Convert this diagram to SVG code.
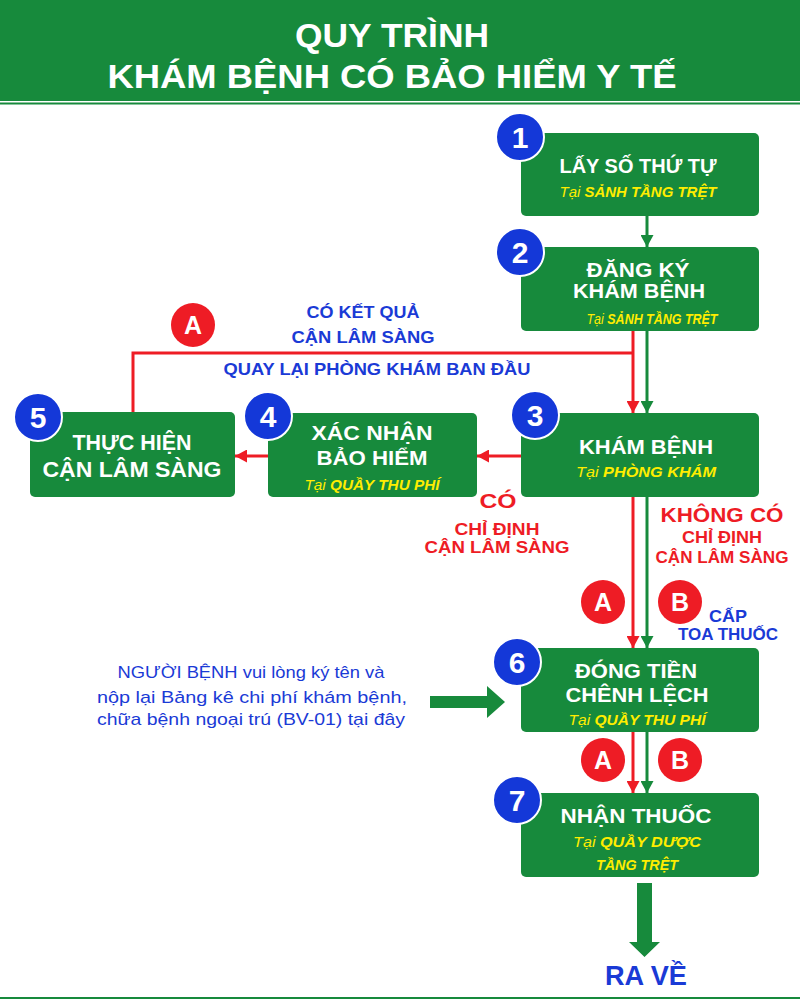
<svg xmlns="http://www.w3.org/2000/svg" width="800" height="1000" viewBox="0 0 800 1000">
<defs>
<style>
text{font-family:"Liberation Sans",Arial,sans-serif;font-weight:bold}
.title{fill:#fff;font-size:33px;text-anchor:middle}
.h{fill:#fff;font-size:20px;text-anchor:middle}
.h5{fill:#fff;font-size:22px;text-anchor:middle}
.y{fill:#ffed00;font-size:15px;font-style:italic;text-anchor:middle}
.yn{font-weight:normal}
.bl{fill:#1a3ad6;font-size:17px;text-anchor:middle}
.para{fill:#1a3ad6;font-size:17px;text-anchor:middle;font-weight:normal}
.rd{fill:#ee1c25;font-size:17px;text-anchor:middle}
.rdb{fill:#ee1c25;font-size:20px;text-anchor:middle}
.box{fill:#178a3c}
.num{fill:#1438d8;stroke:#fff;stroke-width:2}
.nt{fill:#fff;font-size:30px;text-anchor:middle}
.ab{fill:#ee1c25}
.abt{fill:#fff;font-size:25px;text-anchor:middle}
.lr{stroke:#ee1c25;stroke-width:3;fill:none}
.lg{stroke:#178a3c;stroke-width:3;fill:none}
</style>
<marker id="ar" markerUnits="userSpaceOnUse" markerWidth="13" markerHeight="13" refX="12" refY="6.5" orient="auto"><path d="M0,0 L12,6.5 L0,13 z" fill="#ee1c25"/></marker>
<marker id="ag" markerUnits="userSpaceOnUse" markerWidth="13" markerHeight="13" refX="12" refY="6.5" orient="auto"><path d="M0,0 L12,6.5 L0,13 z" fill="#178a3c"/></marker>
</defs>
<rect width="800" height="1000" fill="#fff"/>
<g id="header">
<rect x="0" y="0" width="800" height="101" fill="#178a3c"/>
<rect x="0" y="102.5" width="800" height="2" fill="#178a3c"/>
<text class="title" x="392" y="47" textLength="194" lengthAdjust="spacingAndGlyphs">QUY TRÌNH</text>
<text class="title" x="392" y="88" textLength="569" lengthAdjust="spacingAndGlyphs">KHÁM BỆNH CÓ BẢO HIỂM Y TẾ</text>
</g>
<rect x="0" y="997" width="800" height="2" fill="#178a3c"/>
<g id="connectors">
<line class="lg" x1="647" y1="216" x2="647" y2="247" marker-end="url(#ag)"/>
<polyline class="lr" points="133,412 133,353 633,353"/>
<line class="lr" x1="633" y1="331" x2="633" y2="413" marker-end="url(#ar)"/>
<line class="lg" x1="647" y1="331" x2="647" y2="413" marker-end="url(#ag)"/>
<line class="lr" x1="521" y1="456" x2="477" y2="456" marker-end="url(#ar)"/>
<line class="lr" x1="268" y1="456" x2="235" y2="456" marker-end="url(#ar)"/>
<line class="lr" x1="633" y1="497" x2="633" y2="648" marker-end="url(#ar)"/>
<line class="lg" x1="647" y1="497" x2="647" y2="648" marker-end="url(#ag)"/>
<line class="lr" x1="633" y1="732" x2="633" y2="793" marker-end="url(#ar)"/>
<line class="lg" x1="647" y1="732" x2="647" y2="793" marker-end="url(#ag)"/>
<polygon points="637,883 652,883 652,942 660,942 644.5,957 629,942 637,942" fill="#178a3c"/>
<polygon points="430,696 487,696 487,686 505,702 487,718 487,708 430,708" fill="#178a3c"/>
</g>
<g id="labels">
<circle class="ab" cx="193" cy="325" r="22"/><text class="abt" x="193" y="334">A</text>
<text class="bl" x="363" y="318" textLength="113" lengthAdjust="spacingAndGlyphs">CÓ KẾT QUẢ</text>
<text class="bl" x="363" y="343" textLength="143" lengthAdjust="spacingAndGlyphs">CẬN LÂM SÀNG</text>
<text class="bl" x="377" y="375" textLength="307" lengthAdjust="spacingAndGlyphs">QUAY LẠI PHÒNG KHÁM BAN ĐẦU</text>
<text class="rdb" x="498" y="508" textLength="37" lengthAdjust="spacingAndGlyphs">CÓ</text>
<text class="rd" x="497" y="535" textLength="85" lengthAdjust="spacingAndGlyphs">CHỈ ĐỊNH</text>
<text class="rd" x="497" y="553" textLength="145" lengthAdjust="spacingAndGlyphs">CẬN LÂM SÀNG</text>
<text class="rdb" x="722" y="522" textLength="123" lengthAdjust="spacingAndGlyphs">KHÔNG CÓ</text>
<text class="rd" x="722" y="543" textLength="80" lengthAdjust="spacingAndGlyphs">CHỈ ĐỊNH</text>
<text class="rd" x="722" y="563" textLength="133" lengthAdjust="spacingAndGlyphs">CẬN LÂM SÀNG</text>
<circle class="ab" cx="603" cy="602" r="22"/><text class="abt" x="603" y="611">A</text>
<circle class="ab" cx="680" cy="602" r="22"/><text class="abt" x="680" y="611">B</text>
<text class="bl" x="728" y="622" textLength="38" lengthAdjust="spacingAndGlyphs">CẤP</text>
<text class="bl" x="728" y="640" textLength="100" lengthAdjust="spacingAndGlyphs">TOA THUỐC</text>
<circle class="ab" cx="603" cy="760" r="22"/><text class="abt" x="603" y="769">A</text>
<circle class="ab" cx="680" cy="760" r="22"/><text class="abt" x="680" y="769">B</text>
<text class="para" x="251" y="678" textLength="267" lengthAdjust="spacingAndGlyphs">NGƯỜI BỆNH vui lòng ký tên và</text>
<text class="para" x="252" y="703" textLength="310" lengthAdjust="spacingAndGlyphs">nộp lại Bảng kê chi phí khám bệnh,</text>
<text class="para" x="251" y="725" textLength="308" lengthAdjust="spacingAndGlyphs">chữa bệnh ngoại trú (BV-01) tại đây</text>
<text x="646" y="985" font-size="28" fill="#1a3ad6" text-anchor="middle" textLength="82" lengthAdjust="spacingAndGlyphs">RA VỀ</text>
</g>
<g id="node1">
<rect class="box" x="521" y="133" width="238" height="83" rx="5"/>
<circle class="num" cx="520" cy="137" r="24"/><text class="nt" x="520" y="148">1</text>
<text class="h" x="638" y="173" textLength="157" lengthAdjust="spacingAndGlyphs">LẤY SỐ THỨ TỰ</text>
<text class="y" x="638" y="197" textLength="157" lengthAdjust="spacingAndGlyphs"><tspan class="yn">Tại </tspan>SẢNH TẦNG TRỆT</text>
</g>
<g id="node2">
<rect class="box" x="521" y="247" width="238" height="84" rx="5"/>
<circle class="num" cx="520" cy="252" r="24"/><text class="nt" x="520" y="263">2</text>
<text class="h" x="638" y="277" textLength="103" lengthAdjust="spacingAndGlyphs">ĐĂNG KÝ</text>
<text class="h" x="639" y="298" textLength="132" lengthAdjust="spacingAndGlyphs">KHÁM BỆNH</text>
<text class="y" x="652" y="324" textLength="131" lengthAdjust="spacingAndGlyphs"><tspan class="yn">Tại </tspan>SẢNH TẦNG TRỆT</text>
</g>
<g id="node3">
<rect class="box" x="521" y="413" width="238" height="84" rx="5"/>
<circle class="num" cx="535" cy="415" r="24"/><text class="nt" x="535" y="426">3</text>
<text class="h" x="646" y="454" textLength="134" lengthAdjust="spacingAndGlyphs">KHÁM BỆNH</text>
<text class="y" x="646" y="477" textLength="140" lengthAdjust="spacingAndGlyphs"><tspan class="yn">Tại </tspan>PHÒNG KHÁM</text>
</g>
<g id="node4">
<rect class="box" x="268" y="413" width="209" height="84" rx="5"/>
<circle class="num" cx="268" cy="416" r="24"/><text class="nt" x="268" y="427">4</text>
<text class="h" x="372" y="440" textLength="121" lengthAdjust="spacingAndGlyphs">XÁC NHẬN</text>
<text class="h" x="372" y="465" textLength="111" lengthAdjust="spacingAndGlyphs">BẢO HIỂM</text>
<text class="y" x="372" y="490" textLength="135" lengthAdjust="spacingAndGlyphs"><tspan class="yn">Tại </tspan>QUẦY THU PHÍ</text>
</g>
<g id="node5">
<rect class="box" x="30" y="412" width="205" height="85" rx="5"/>
<circle class="num" cx="38" cy="417" r="24"/><text class="nt" x="38" y="428">5</text>
<text class="h5" x="132" y="450" textLength="119" lengthAdjust="spacingAndGlyphs">THỰC HIỆN</text>
<text class="h5" x="132" y="477" textLength="179" lengthAdjust="spacingAndGlyphs">CẬN LÂM SÀNG</text>
</g>
<g id="node6">
<rect class="box" x="521" y="648" width="238" height="84" rx="5"/>
<circle class="num" cx="517" cy="662" r="24"/><text class="nt" x="517" y="673">6</text>
<text class="h" x="636" y="678" textLength="122" lengthAdjust="spacingAndGlyphs">ĐÓNG TIỀN</text>
<text class="h" x="637" y="702" textLength="143" lengthAdjust="spacingAndGlyphs">CHÊNH LỆCH</text>
<text class="y" x="637" y="725" textLength="137" lengthAdjust="spacingAndGlyphs"><tspan class="yn">Tại </tspan>QUẦY THU PHÍ</text>
</g>
<g id="node7">
<rect class="box" x="521" y="793" width="238" height="84" rx="5"/>
<circle class="num" cx="517" cy="800" r="24"/><text class="nt" x="517" y="811">7</text>
<text class="h" x="636" y="823" textLength="151" lengthAdjust="spacingAndGlyphs">NHẬN THUỐC</text>
<text class="y" x="637" y="847" textLength="128" lengthAdjust="spacingAndGlyphs"><tspan class="yn">Tại </tspan>QUẦY DƯỢC</text>
<text class="y" x="637" y="870" textLength="82" lengthAdjust="spacingAndGlyphs">TẦNG TRỆT</text>
</g>
</svg>
